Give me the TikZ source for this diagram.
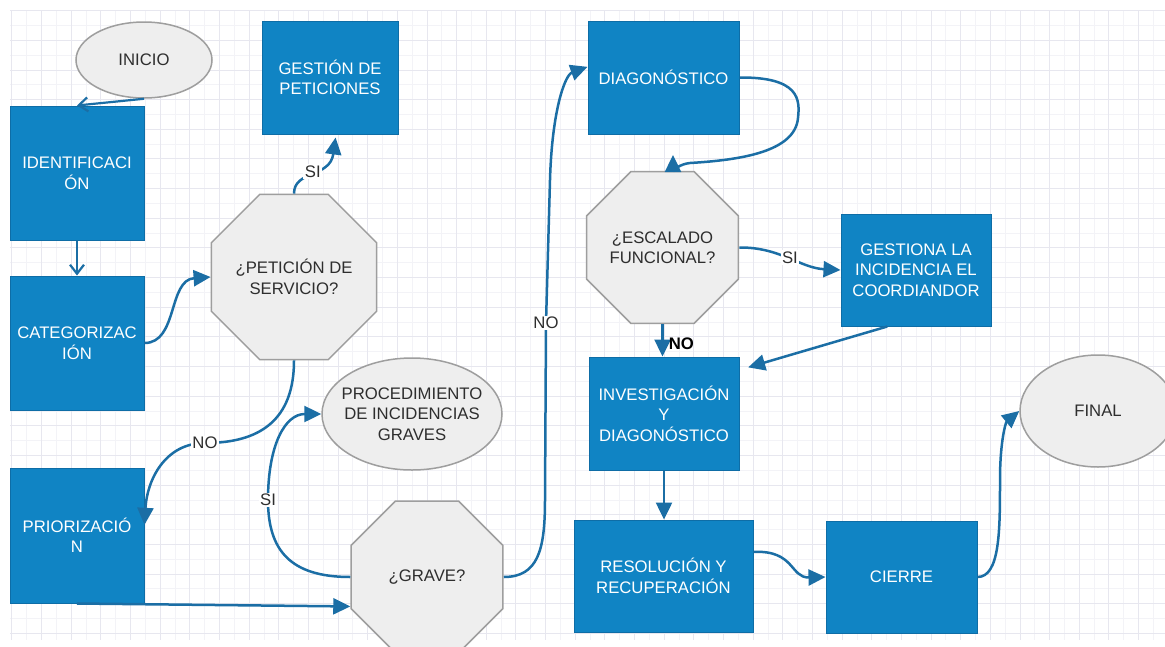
\documentclass[tikz,border=0pt]{standalone}
\usepackage{fontspec}
\setmainfont{Liberation Sans}
\usetikzlibrary{shapes.geometric,arrows.meta}
\definecolor{boxblue}{HTML}{1084C4}
\definecolor{boxedge}{HTML}{0E6DA6}
\definecolor{linkblue}{HTML}{1B6EA5}
\definecolor{grayfill}{HTML}{EEEEEE}
\definecolor{grayedge}{HTML}{9E9E9E}
\definecolor{txt}{HTML}{2E2E2E}
\definecolor{gridmajor}{HTML}{E7E7EF}
\definecolor{gridminor}{HTML}{F3F3F7}
\begin{document}
\begin{tikzpicture}[x=1pt,y=-1pt,
  font=\fontsize{16.7}{20.5}\selectfont,
  bluebox/.style={rectangle, draw=boxedge, line width=1pt, fill=boxblue, text=white, align=center, inner sep=0pt},
  grayell/.style={ellipse, draw=grayedge, line width=1.5pt, fill=grayfill, text=txt, align=center, inner sep=0pt},
  octa/.style={regular polygon, regular polygon sides=8, minimum size=164.5pt, draw=grayedge, line width=1.5pt, fill=grayfill, text=txt, align=center, inner sep=0pt},
  link/.style={draw=linkblue, line width=2.5pt, -{Triangle[length=17pt,width=16pt]}},
  thinlink/.style={draw=linkblue, line width=2.2pt, -{Straight Barb[length=9pt,width=14pt]}},
  lbl/.style={fill=white, text=txt, inner sep=1.5pt}
]
\useasboundingbox (0,0) rectangle (1165,646);
\fill[white] (0,0) rectangle (1165,646);
% grid
\foreach \i in {0,...,39} \draw[gridminor, line width=0.8pt] ({26.7+29.65*\i},11) -- ++(0,629);
\foreach \i in {0,...,20} \draw[gridminor, line width=0.8pt] (10,{25.5+29.65*\i}) -- ++(1155,0);
\foreach \i in {0,...,39} \draw[gridmajor, line width=1pt] ({11.9+29.65*\i},11) -- ++(0,629);
\foreach \i in {0,...,21} \draw[gridmajor, line width=1pt] (10,{10.7+29.65*\i}) -- ++(1155,0);

% nodes
\node[grayell, minimum width=136pt, minimum height=76pt] (inicio) at (144,60) {INICIO};
\node[bluebox, minimum width=136pt, minimum height=113pt] (gpet) at (330,77.5) {GESTIÓN DE\\PETICIONES};
\node[bluebox, minimum width=134pt, minimum height=134pt] (ident) at (77,173) {IDENTIFICACI\\ÓN};
\node[bluebox, minimum width=134pt, minimum height=134pt] (categ) at (77,343) {CATEGORIZAC\\IÓN};
\node[bluebox, minimum width=134pt, minimum height=135pt] (prio) at (77,535.5) {PRIORIZACIÓ\\N};
\node[octa] (pet) at (294,277) {¿PETICIÓN DE\\SERVICIO?};
\node[grayell, inner xsep=-12pt, inner ysep=0pt, minimum width=180pt, minimum height=112pt] (proc) at (412,414) {PROCEDIMIENTO\\DE INCIDENCIAS\\GRAVES};
\node[octa] (grave) at (427,577) {¿GRAVE?};
\node[bluebox, minimum width=151pt, minimum height=113pt] (diag) at (663.5,77.5) {DIAGONÓSTICO};
\node[octa] (esc) at (662.5,247.5) {¿ESCALADO\\FUNCIONAL?};
\node[bluebox, minimum width=150pt, minimum height=112pt] (gest) at (916,270) {GESTIONA LA\\INCIDENCIA EL\\COORDIANDOR};
\node[bluebox, minimum width=150pt, minimum height=113pt] (inv) at (664,413.5) {INVESTIGACIÓN\\Y\\DIAGONÓSTICO};
\node[bluebox, minimum width=179pt, minimum height=112pt] (resol) at (663.5,576) {RESOLUCIÓN Y\\RECUPERACIÓN};
\node[bluebox, minimum width=151pt, minimum height=112pt] (cierre) at (901.5,577) {CIERRE};
\node[grayell, minimum width=156pt, minimum height=112pt] (final) at (1098,411) {FINAL};
\coordinate (escin) at (673,155);

% connectors
\draw[thinlink] (inicio.south) -- (ident.north);
\draw[thinlink] (ident.south) -- (categ.north);
\draw[link] (categ.east) .. controls (178,343) and (168,280) .. (pet.west);
\draw[link, shorten >=3pt] (pet.north) .. controls (294,170) and (330,178) .. (gpet.-84) node[lbl, pos=0.5] {SI};
\draw[link] (pet.south) .. controls (294,420) and (260,443) .. (205,443) node[lbl] {NO} .. controls (165,443) and (147,480) .. (prio.9);
\draw[link] (prio.south) -- (grave.201);
\draw[link] (grave.west) .. controls (290,577) and (268,550) .. (268,500) node[lbl] {SI} .. controls (268,445) and (285,414) .. (proc.west);
\draw[link] (grave.east) .. controls (538,577) and (545,550) .. (545,500) -- (546,323) node[lbl] {NO} -- (550,180) .. controls (552,110) and (565,75) .. (diag.172);
\draw[link] (diag.east) .. controls (800,77) and (800,100) .. (798,118) .. controls (795,152) and (740,160) .. (690,163) .. controls (680,164) and (673,170) .. (escin);
\draw[link] (esc.east) .. controls (780,247) and (800,268) .. (gest.west) node[lbl, pos=0.5] {SI};
\draw[link] (esc.south) -- (esc.south |- inv.north) node[pos=0.6, right=5pt, inner sep=0pt, text=black, font=\fontsize{16.7}{20.5}\selectfont\bfseries] {NO};
\draw[link, shorten >=9pt] (gest.-117) -- (inv.30);
\draw[link] (inv.south) -- (inv.south |- resol.north);
\draw[link] (resol.15) .. controls (795,550) and (790,578) .. (cierre.west);
\draw[link] (cierre.east) .. controls (1000,577) and (1000,530) .. (1000,480) .. controls (1000,440) and (1006,422) .. (final.west);
\end{tikzpicture}
\end{document}
